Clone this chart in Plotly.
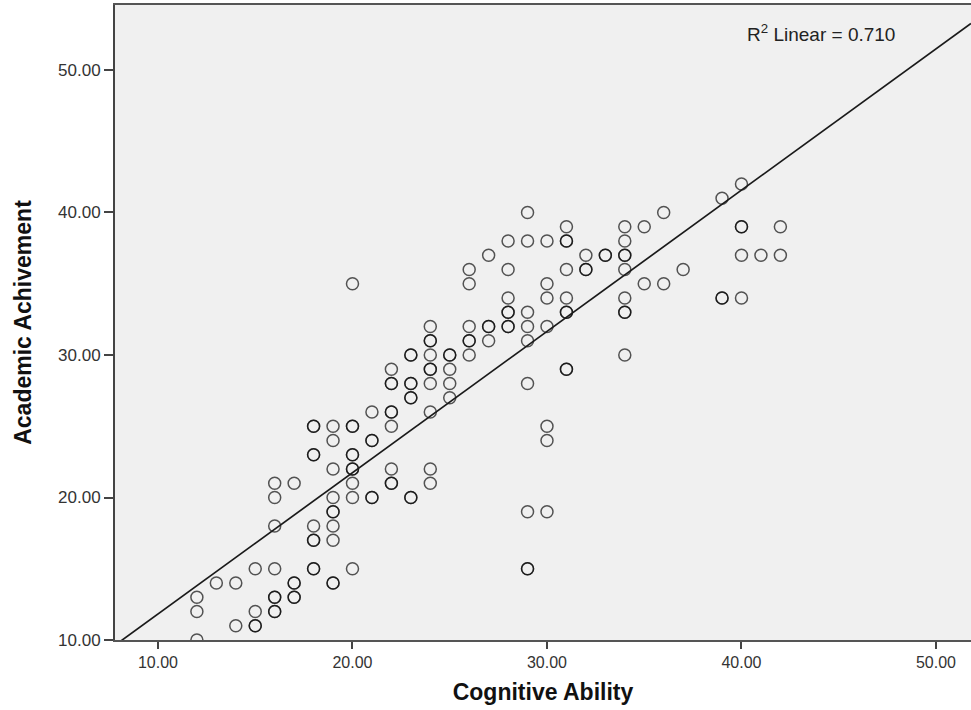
import numpy as np
import plotly.graph_objects as go

# Data (duplicates = darker overlapping circles)
cognitive_ability = (
    [12] * 3 + [13] * 1 + [14] * 2 + [15] * 4 + [16] * 8 + [17] * 5 + [18] * 9 +
    [19] * 10 + [20] * 10 + [21] * 5 + [22] * 9 + [23] * 8 + [24] * 10 + [25] * 5 +
    [26] * 6 + [27] * 4 + [28] * 7 + [29] * 9 + [30] * 7 + [31] * 9 + [32] * 3 +
    [33] * 2 + [34] * 9 + [35] * 2 + [36] * 2 + [37] * 1 + [39] * 3 + [40] * 5 +
    [41] * 1 + [42] * 2
)
academic_achievement = [
    10, 12, 13,
    14,
    11, 14,
    11, 11, 12, 15,
    12, 12, 13, 13, 15, 18, 20, 21,
    13, 13, 14, 14, 21,
    15, 15, 17, 17, 18, 23, 23, 25, 25,
    14, 14, 17, 18, 19, 19, 20, 22, 24, 25,
    15, 20, 21, 22, 22, 23, 23, 25, 25, 35,
    20, 20, 24, 24, 26,
    21, 21, 22, 25, 26, 26, 28, 28, 29,
    20, 20, 27, 27, 28, 28, 30, 30,
    21, 22, 26, 28, 29, 29, 30, 31, 31, 32,
    27, 28, 29, 30, 30,
    30, 31, 31, 32, 35, 36,
    31, 32, 32, 37,
    32, 32, 33, 33, 34, 36, 38,
    15, 15, 19, 28, 31, 32, 33, 38, 40,
    19, 24, 25, 32, 34, 35, 38,
    29, 29, 33, 33, 34, 36, 38, 38, 39,
    36, 36, 37,
    37, 37,
    30, 33, 33, 34, 36, 37, 37, 38, 39,
    35, 39,
    35, 40,
    36,
    34, 34, 41,
    34, 37, 39, 39, 42,
    37,
    37, 39,
]
r2_label = "R<sup>2</sup> Linear = 0.710"
x_tick_vals = [10, 20, 30, 40, 50]
y_tick_vals = [10, 20, 30, 40, 50]

x_range = [7.79, 51.80]
y_range = [10.0, 54.56]

xa = np.array(cognitive_ability, dtype=float)
ya = np.array(academic_achievement, dtype=float)
slope, intercept = np.polyfit(xa, ya, 1)
line_x = np.array(x_range)
line_y = intercept + slope * line_x

fig = go.Figure()
fig.add_trace(go.Scatter(
    x=cognitive_ability, y=academic_achievement, mode="markers",
    marker=dict(symbol="circle-open", size=12, color="rgba(0,0,0,0.66)",
                line=dict(width=1.5, color="rgba(0,0,0,0.66)")),
    showlegend=False, hoverinfo="x+y",
))
fig.add_trace(go.Scatter(
    x=line_x, y=line_y, mode="lines",
    line=dict(color="#1a1a1a", width=1.7),
    showlegend=False, hoverinfo="skip",
))

sans = "Liberation Sans, Arial, sans-serif"
xtick_font = dict(family=sans, size=16, color="#333333")
ytick_font = dict(family=sans, size=17, color="#333333")
title_font = dict(family=sans, size=23, color="#111111", weight="bold")

fig.update_layout(
    width=971, height=710,
    margin=dict(l=115, r=0, t=5, b=70),
    paper_bgcolor="white",
    plot_bgcolor="#f0f0f0",
    xaxis=dict(
        range=x_range, tickvals=x_tick_vals,
        ticktext=[f"{v:.2f}" for v in x_tick_vals],
        showgrid=False, zeroline=False,
        showline=True, linecolor="#555555", linewidth=2, mirror=True,
        ticks="outside", ticklen=7, tickwidth=2, tickcolor="#444444",
        tickfont=xtick_font,
        title=dict(text="Cognitive Ability", font=title_font, standoff=14),
    ),
    yaxis=dict(
        range=y_range, tickvals=y_tick_vals,
        ticktext=[f"{v:.2f}" for v in y_tick_vals],
        showgrid=False, zeroline=False,
        showline=True, linecolor="#444444", linewidth=2,
        ticks="outside", ticklen=9, tickwidth=2, tickcolor="#444444",
        tickfont=ytick_font,
        title=dict(text="Academic Achivement", font=title_font, standoff=20),
    ),
    annotations=[dict(
        text=r2_label, xref="paper", yref="paper", x=0.736, y=0.956,
        xanchor="left", yanchor="middle", showarrow=False,
        font=dict(family=sans, size=19, color="#222222"),
    )],
)

fig.write_html("out.html")
